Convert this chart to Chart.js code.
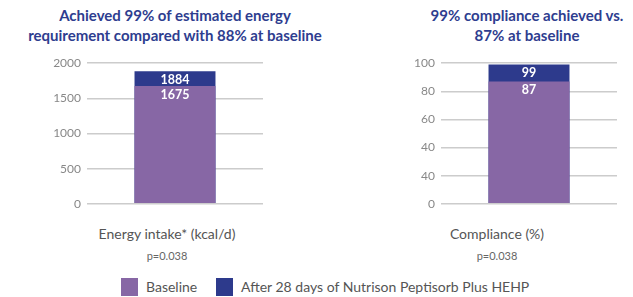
<!DOCTYPE html>
<html><head><meta charset="utf-8">
<script src="https://cdn.jsdelivr.net/npm/chart.js@4"></script>
<style>
html,body{margin:0;padding:0;background:#fff;width:633px;height:297px;overflow:hidden;font-family:Lato,"Open Sans",sans-serif;}
.abs{position:absolute;}
.title{position:absolute;width:360px;text-align:center;color:#2e3d8f;font-weight:bold;font-size:15px;line-height:20px;top:5px;}
.xl{position:absolute;width:240px;text-align:center;color:#555;font-size:14px;}
.p{position:absolute;width:240px;text-align:center;color:#666;font-size:11px;}
.leg{position:absolute;top:278px;left:0;width:633px;height:18px;}
.sw{position:absolute;width:17px;height:18px;top:0}
.lt{position:absolute;top:0;line-height:18px;font-size:14px;color:#555;white-space:nowrap}
</style></head>
<body>
<div class="title" style="left:-5px">Achieved 99% of estimated energy<br>requirement compared with 88% at baseline</div>
<div class="title" style="left:347px">99% compliance achieved vs.<br>87% at baseline</div>
<canvas id="c1" class="abs" style="left:0;top:50px" width="263" height="167"></canvas>
<canvas id="c2" class="abs" style="left:354px;top:50px" width="263" height="167"></canvas>
<div class="xl" style="left:47px;top:225px">Energy intake* (kcal/d)</div>
<div class="p" style="left:47px;top:249px">p=0.038</div>
<div class="xl" style="left:377px;top:225px">Compliance (%)</div>
<div class="p" style="left:377px;top:249px">p=0.038</div>
<div class="leg">
  <div class="sw" style="left:121px;background:#8767a5"></div>
  <div class="lt" style="left:146px">Baseline</div>
  <div class="sw" style="left:216px;background:#2d3a8c"></div>
  <div class="lt" style="left:241px">After 28 days of Nutrison Peptisorb Plus HEHP</div>
</div>
<script>
const energyCategories = ["Energy intake* (kcal/d)"];
const energyBaseline = [1675];
const energyAfter = [1884];
const energyTicks = ["0","500","1000","1500","2000"];

const complianceCategories = ["Compliance (%)"];
const complianceBaseline = [87];
const complianceAfter = [99];
const complianceTicks = ["0","40","40","60","80","100"];

const PURPLE = "#8767a5", NAVY = "#2d3a8c";

const labelPlugin = {
  id: "barLabels",
  afterDatasetsDraw(chart) {
    const ctx = chart.ctx;
    ctx.save();
    ctx.fillStyle = "#fff";
    ctx.font = "bold 12.5px Lato, sans-serif";
    ctx.textAlign = "center";
    ctx.textBaseline = "middle";
    chart.data.datasets.forEach((ds, di) => {
      const meta = chart.getDatasetMeta(di);
      meta.data.forEach((bar, i) => {
        ctx.fillText(String(ds.data[i]), bar.x, bar.y + 8.5);
      });
    });
    ctx.restore();
  }
};

function makeChart(id, cats, base, after, max, step, tickLabels) {
  return new Chart(document.getElementById(id), {
    type: "bar",
    data: {
      labels: cats,
      datasets: [
        { label: "Baseline", data: base, backgroundColor: PURPLE, order: 1 },
        { label: "After 28 days of Nutrison Peptisorb Plus HEHP", data: after, backgroundColor: NAVY, order: 2 }
      ]
    },
    options: {
      responsive: false,
      animation: false,
      events: [],
      layout: { padding: { top: 12, bottom: 6, left: 0, right: 0 } },
      plugins: { legend: { display: false }, tooltip: { enabled: false } },
      datasets: { bar: { categoryPercentage: 1, barPercentage: 0.46 } },
      scales: {
        x: { stacked: true, display: false },
        y: {
          stacked: false,
          min: 0, max: max,
          afterFit(s) { s.width = 87; },
          border: { display: false },
          grid: { color: "#cccccc", lineWidth: 1.5, drawTicks: false },
          ticks: {
            stepSize: step, padding: 6, color: "#888",
            font: { family: "Lato", size: 12 },
            callback: (v, i) => tickLabels[i]
          }
        }
      }
    },
    plugins: [labelPlugin]
  });
}
makeChart("c1", energyCategories, energyBaseline, energyAfter, 2000, 500, energyTicks);
makeChart("c2", complianceCategories, complianceBaseline, complianceAfter, 100, 20, complianceTicks);
</script>
</body></html>
